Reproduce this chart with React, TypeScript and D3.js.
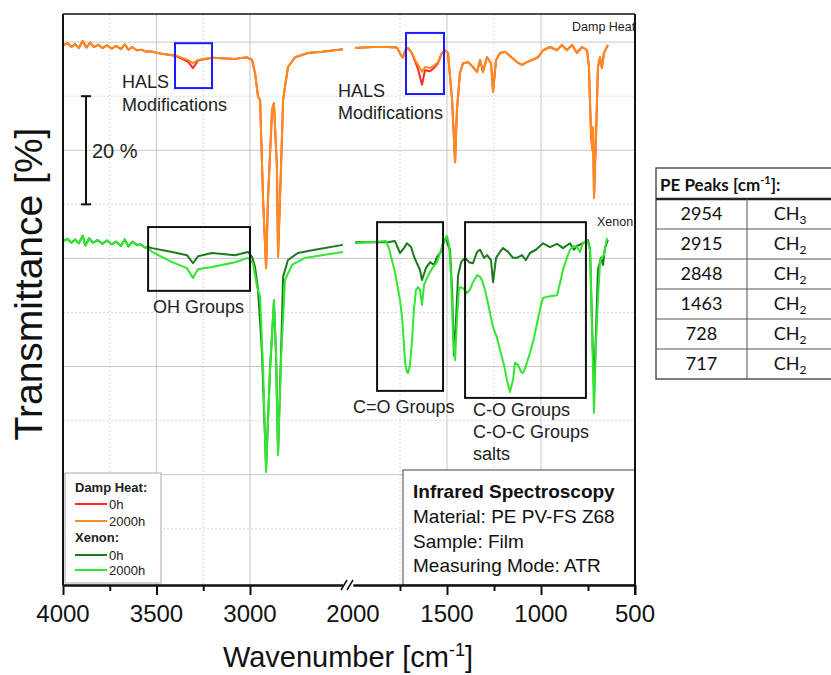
import React, { useEffect, useRef } from 'react';
import * as d3 from 'd3';

type Pt = [number, number];

const W = 831;
const H = 675;

// spectra: [wavenumber (cm-1), transmittance in % incl. stacking offset]
const dampHeat2000h: Pt[] = [
  [4000, 99.4], [3975, 99.8], [3955, 99.1], [3935, 99.6], [3915, 98.9], [3895, 100.2], [3875, 99.0],
  [3855, 99.9], [3835, 99.1], [3810, 99.5], [3790, 98.9], [3765, 99.4], [3740, 98.8], [3715, 99.3],
  [3690, 98.7], [3670, 99.6], [3650, 98.6], [3630, 99.1], [3605, 98.5], [3580, 98.6], [3555, 98.2],
  [3535, 98.3], [3480, 97.9], [3430, 97.6], [3401, 97.6], [3332, 96.7], [3305, 96.1], [3278, 96.7],
  [3203, 97.1], [3080, 96.9], [3016, 97.2], [2989, 96.7], [2973, 94.3], [2957, 89.9], [2946, 89.3],
  [2930, 70.8], [2914, 58.2], [2904, 70.8], [2882, 87.5], [2872, 88.7], [2856, 76.9], [2850, 60.3],
  [2834, 76.9], [2823, 89.3], [2797, 95.4], [2759, 97.2], [2690, 98.0], [2615, 98.2], [2503, 98.7],
  [1989, 98.9], [1894, 99.1], [1819, 99.1], [1766, 99.0], [1745, 97.6], [1734, 97.1], [1723, 98.5],
  [1707, 98.9], [1686, 98.0], [1670, 96.7], [1654, 95.8], [1633, 94.5], [1617, 95.4], [1590, 95.2],
  [1564, 95.8], [1548, 96.3], [1527, 98.0], [1511, 98.5], [1495, 98.0], [1473, 89.3], [1457, 77.8],
  [1447, 87.5], [1431, 94.3], [1415, 96.1], [1388, 96.3], [1362, 95.4], [1340, 94.5], [1324, 96.7],
  [1309, 94.5], [1287, 97.2], [1266, 96.1], [1255, 90.8], [1239, 96.7], [1218, 98.0], [1191, 98.2],
  [1154, 97.1], [1128, 96.3], [1101, 95.8], [1075, 96.3], [1048, 96.7], [1016, 97.2], [989, 98.5],
  [952, 99.1], [915, 98.5], [889, 99.5], [862, 98.5], [835, 99.5], [809, 98.0], [782, 99.1],
  [755, 98.5], [745, 95.4], [734, 83.2], [728, 80.0], [723, 84.3], [718, 71.2], [707, 83.2],
  [697, 95.4], [686, 97.2], [676, 95.2], [665, 98.0], [644, 99.5],
];

const dampHeat0h: Pt[] = [
  [4000, 99.4], [3975, 99.8], [3955, 99.1], [3935, 99.6], [3915, 98.9], [3895, 100.2], [3875, 99.0],
  [3855, 99.9], [3835, 99.1], [3810, 99.5], [3790, 98.9], [3765, 99.4], [3740, 98.8], [3715, 99.3],
  [3690, 98.7], [3670, 99.6], [3650, 98.6], [3630, 99.1], [3605, 98.5], [3580, 98.6], [3555, 98.2],
  [3535, 98.3], [3480, 97.9], [3430, 97.6], [3401, 97.5], [3332, 96.4], [3305, 95.2], [3278, 96.6],
  [3203, 97.1], [3080, 96.9], [3016, 97.2], [2989, 96.7], [2973, 94.3], [2957, 89.9], [2946, 89.3],
  [2930, 70.8], [2914, 58.2], [2904, 70.8], [2882, 87.5], [2872, 88.7], [2856, 76.9], [2850, 60.3],
  [2834, 76.9], [2823, 89.3], [2797, 95.4], [2759, 97.2], [2690, 98.0], [2615, 98.2], [2503, 98.7],
  [1989, 98.9], [1894, 99.1], [1819, 99.1], [1766, 99.0], [1745, 97.6], [1734, 97.1], [1723, 98.5],
  [1707, 98.9], [1686, 97.9], [1670, 96.5], [1654, 95.0], [1633, 92.1], [1617, 94.8], [1590, 94.6],
  [1564, 95.4], [1548, 96.1], [1527, 98.0], [1511, 98.5], [1495, 98.0], [1473, 89.3], [1457, 77.8],
  [1447, 87.5], [1431, 94.3], [1415, 96.1], [1388, 96.3], [1362, 95.4], [1340, 94.5], [1324, 96.7],
  [1309, 94.5], [1287, 97.2], [1266, 96.1], [1255, 90.8], [1239, 96.7], [1218, 98.0], [1191, 98.2],
  [1154, 97.1], [1128, 96.3], [1101, 95.8], [1075, 96.3], [1048, 96.7], [1016, 97.2], [989, 98.5],
  [952, 99.1], [915, 98.5], [889, 99.5], [862, 98.5], [835, 99.5], [809, 98.0], [782, 99.1],
  [755, 98.5], [745, 95.4], [734, 82.8], [728, 80.5], [723, 84.0], [718, 71.2], [707, 83.2],
  [697, 95.4], [686, 97.2], [676, 95.2], [665, 98.0], [644, 99.5],
];

const xenon0h: Pt[] = [
  [4000, 63.2], [3975, 63.6], [3955, 62.9], [3935, 63.5], [3915, 62.8], [3895, 64.2], [3880, 62.4],
  [3860, 63.7], [3840, 62.9], [3815, 63.4], [3790, 62.7], [3765, 63.3], [3740, 62.6], [3715, 63.1],
  [3690, 62.3], [3670, 63.5], [3650, 62.2], [3630, 63.1], [3605, 62.5], [3585, 62.6], [3560, 62.0],
  [3545, 62.1], [3524, 61.9], [3417, 61.2], [3337, 60.6], [3305, 59.1], [3278, 60.4], [3203, 61.0],
  [3080, 60.6], [3011, 61.2], [2989, 60.3], [2973, 58.4], [2957, 54.2], [2936, 42.5], [2914, 21.4],
  [2893, 39.4], [2872, 51.9], [2861, 42.5], [2850, 24.0], [2834, 42.5], [2823, 56.6], [2797, 59.7],
  [2744, 61.0], [2653, 61.6], [2503, 62.5],
  [1989, 63.0], [1910, 63.0], [1814, 63.0], [1777, 63.2], [1750, 61.0], [1729, 61.9], [1713, 62.8],
  [1691, 62.1], [1676, 60.4], [1660, 59.1], [1644, 57.9], [1633, 56.0], [1612, 58.2], [1590, 59.3],
  [1569, 58.8], [1553, 60.3], [1532, 61.2], [1521, 62.8], [1505, 63.8], [1495, 62.5], [1484, 61.6],
  [1473, 54.2], [1463, 42.1], [1452, 48.6], [1441, 56.9], [1425, 59.3], [1404, 60.1], [1383, 59.3],
  [1362, 59.1], [1340, 61.2], [1324, 61.6], [1303, 60.1], [1287, 60.6], [1266, 59.7], [1255, 55.6],
  [1239, 60.1], [1218, 61.2], [1202, 61.9], [1175, 61.2], [1149, 60.1], [1128, 60.1], [1101, 60.6],
  [1080, 59.7], [1059, 61.0], [1027, 61.6], [989, 62.8], [952, 62.1], [915, 62.7], [883, 61.9],
  [846, 62.8], [825, 61.6], [809, 62.3], [777, 62.8], [750, 63.4], [739, 61.6], [729, 48.6],
  [718, 35.7], [707, 46.8], [697, 57.9], [681, 60.1], [670, 58.8], [660, 61.9], [644, 63.4],
];

const xenon2000h: Pt[] = [
  [4000, 63.2], [3975, 63.6], [3955, 62.9], [3935, 63.5], [3915, 62.8], [3895, 64.2], [3880, 62.4],
  [3860, 63.7], [3840, 62.9], [3815, 63.4], [3790, 62.7], [3765, 63.3], [3740, 62.6], [3715, 63.1],
  [3690, 62.3], [3670, 63.5], [3650, 62.2], [3630, 63.1], [3605, 62.5], [3585, 62.6], [3560, 62.0],
  [3545, 62.0], [3524, 61.2], [3417, 59.3], [3337, 58.2], [3305, 56.4], [3278, 58.0], [3203, 58.4],
  [3080, 59.3], [3011, 60.1], [2984, 59.1], [2962, 54.7], [2946, 52.9], [2930, 39.4], [2914, 20.5],
  [2893, 39.4], [2872, 52.3], [2861, 42.5], [2850, 23.6], [2834, 41.2], [2813, 56.0], [2775, 58.8],
  [2706, 60.1], [2615, 60.6], [2503, 61.2],
  [1989, 62.8], [1910, 63.0], [1824, 63.2], [1809, 61.9], [1793, 59.7], [1777, 57.5], [1766, 55.4],
  [1750, 52.3], [1739, 49.2], [1729, 44.0], [1723, 40.7], [1713, 39.0], [1707, 38.8], [1697, 40.3],
  [1686, 44.9], [1676, 50.5], [1665, 54.2], [1654, 54.7], [1644, 54.2], [1633, 51.4], [1622, 55.1],
  [1606, 56.4], [1590, 57.5], [1574, 58.4], [1553, 59.3], [1527, 62.1], [1511, 63.4], [1500, 64.2],
  [1489, 62.5], [1479, 56.9], [1468, 45.8], [1457, 41.2], [1447, 48.6], [1436, 54.7], [1415, 54.5],
  [1394, 53.6], [1378, 54.2], [1362, 55.6], [1340, 56.9], [1324, 56.6], [1314, 56.0], [1298, 54.2],
  [1282, 51.7], [1266, 49.0], [1255, 47.3], [1234, 45.3], [1218, 43.1], [1197, 40.3], [1181, 37.5],
  [1165, 35.3], [1149, 37.5], [1138, 40.7], [1122, 40.3], [1106, 39.0], [1096, 38.8], [1080, 40.1],
  [1059, 42.5], [1037, 45.3], [1021, 48.0], [1000, 51.4], [989, 52.7], [952, 53.0], [915, 53.2],
  [899, 55.4], [883, 57.9], [862, 60.1], [846, 61.6], [825, 62.3], [809, 62.1], [793, 61.2],
  [777, 62.8], [755, 63.4], [739, 61.6], [729, 47.3], [718, 31.4], [707, 44.9], [697, 52.3],
  [686, 59.3], [676, 60.3], [665, 60.6], [649, 63.8],
];

const series = [
  { name: '0h', group: 'Damp Heat', data: dampHeat0h, color: '#ff2a2a' },
  { name: '2000h', group: 'Damp Heat', data: dampHeat2000h, color: '#ff8c1a' },
  { name: '0h', group: 'Xenon', data: xenon0h, color: '#1c7a1c' },
  { name: '2000h', group: 'Xenon', data: xenon2000h, color: '#30e830' },
];

const leftMajor = [4000, 3500, 3000];
const leftMinor = [3750, 3250];
const rightMajor = [1500, 1000, 500];
const rightMinor = [1750, 1250, 750];
const yMajor = [20, 40, 60, 80, 100];
const yMinor = [10, 30, 50, 70, 90];

const peakWavenumbers = ['2954', '2915', '2848', '1463', '728', '717'];
const peakGroups = ['3', '2', '2', '2', '2', '2'];

const infoLines = ['Material: PE PV-FS Z68', 'Sample: Film', 'Measuring Mode: ATR'];

const FONT = '"Liberation Sans", Arial, sans-serif';

const App: React.FC = () => {
  const svgRef = useRef<SVGSVGElement>(null);

  useEffect(() => {
    const svg = d3.select(svgRef.current);
    svg.selectAll('*').remove();

    const left = 63, right = 635, top = 14, bottom = 585;
    const xL = d3.scaleLinear().domain([4000, 2500]).range([left, 343.5]);
    const xR = d3.scaleLinear().domain([2000, 500]).range([353, right]);
    const y = d3.scaleLinear().domain([-0.4, 105.2]).range([bottom, top]);

    svg.append('defs').append('clipPath').attr('id', 'plot-clip')
      .append('rect').attr('x', left).attr('y', top).attr('width', right - left).attr('height', bottom - top);

    const g = svg.append('g');

    // grid
    const grid = g.append('g');
    const vSolid = [...leftMajor.map(d => xL(d)), ...rightMajor.map(d => xR(d))].filter(x => x > left + 1 && x < right - 1);
    const vDash = [...leftMinor.map(d => xL(d)), ...[1750, 1250].map(d => xR(d))];
    grid.selectAll('.vs').data(vSolid).enter().append('line')
      .attr('x1', d => d).attr('x2', d => d).attr('y1', top).attr('y2', bottom)
      .attr('stroke', '#c8c8c8').attr('stroke-width', 1);
    grid.selectAll('.vd').data(vDash).enter().append('line')
      .attr('x1', d => d).attr('x2', d => d).attr('y1', top).attr('y2', bottom)
      .attr('stroke', '#d8d8d8').attr('stroke-width', 1).attr('stroke-dasharray', '2,2');
    grid.selectAll('.hs').data(yMajor).enter().append('line')
      .attr('x1', left).attr('x2', right).attr('y1', d => y(d)).attr('y2', d => y(d))
      .attr('stroke', '#c8c8c8').attr('stroke-width', 1);
    grid.selectAll('.hd').data(yMinor).enter().append('line')
      .attr('x1', left).attr('x2', right).attr('y1', d => y(d)).attr('y2', d => y(d))
      .attr('stroke', '#d8d8d8').attr('stroke-width', 1).attr('stroke-dasharray', '2,2');

    // spectra
    const lineL = d3.line<Pt>().x(d => xL(d[0])).y(d => y(d[1]));
    const lineR = d3.line<Pt>().x(d => xR(d[0])).y(d => y(d[1]));
    const curves = g.append('g').attr('clip-path', 'url(#plot-clip)');
    series.forEach(s => {
      curves.append('path').attr('d', lineL(s.data.filter(d => d[0] >= 2500)) || '')
        .attr('fill', 'none').attr('stroke', s.color).attr('stroke-width', 2).attr('stroke-linejoin', 'round');
      curves.append('path').attr('d', lineR(s.data.filter(d => d[0] <= 2000)) || '')
        .attr('fill', 'none').attr('stroke', s.color).attr('stroke-width', 2).attr('stroke-linejoin', 'round');
    });

    const labels = g.append('g').attr('clip-path', 'url(#plot-clip)').attr('font-family', FONT);
    labels.append('text').attr('x', 572).attr('y', 31).attr('font-size', 12.5).attr('fill', '#222').text('Damp Heat');
    labels.append('text').attr('x', 597).attr('y', 226).attr('font-size', 12.5).attr('fill', '#222').text('Xenon');

    // annotation boxes
    const boxes = [
      { x0: xL(3401), x1: xL(3203), v0: 99.8, v1: 91.5, c: '#1a1aff' },
      { x0: xR(1718), x1: xR(1516), v0: 101.7, v1: 90.4, c: '#1a1aff' },
      { x0: xL(3545), x1: xL(3000), v0: 65.8, v1: 54.0, c: '#111' },
      { x0: xR(1872), x1: xR(1521), v0: 66.7, v1: 35.5, c: '#111' },
      { x0: xR(1404), x1: xR(761), v0: 66.7, v1: 34.2, c: '#111' },
    ];
    g.selectAll('.box').data(boxes).enter().append('rect')
      .attr('x', d => d.x0).attr('y', d => y(d.v0))
      .attr('width', d => d.x1 - d.x0).attr('height', d => y(d.v1) - y(d.v0))
      .attr('fill', 'none').attr('stroke', d => d.c).attr('stroke-width', 2);

    const ann = g.append('g').attr('font-family', FONT).attr('font-size', 18).attr('fill', '#222');
    ann.append('text').attr('x', 122).attr('y', 88).text('HALS');
    ann.append('text').attr('x', 122).attr('y', 111).text('Modifications');
    ann.append('text').attr('x', 338).attr('y', 97).text('HALS');
    ann.append('text').attr('x', 338).attr('y', 119).text('Modifications');
    ann.append('text').attr('x', 153).attr('y', 313).text('OH Groups');
    ann.append('text').attr('x', 353).attr('y', 413).text('C=O Groups');
    ann.append('text').attr('x', 473).attr('y', 416).text('C-O Groups');
    ann.append('text').attr('x', 473).attr('y', 438).text('C-O-C Groups');
    ann.append('text').attr('x', 473).attr('y', 460).text('salts');

    // 20 % scale bar
    const bar = g.append('g').attr('stroke', '#111').attr('stroke-width', 2);
    bar.append('line').attr('x1', 86).attr('x2', 86).attr('y1', y(90)).attr('y2', y(70));
    bar.append('line').attr('x1', 81).attr('x2', 91).attr('y1', y(90)).attr('y2', y(90));
    bar.append('line').attr('x1', 81).attr('x2', 91).attr('y1', y(70)).attr('y2', y(70));
    g.append('text').attr('x', 92).attr('y', 158).attr('font-family', FONT).attr('font-size', 20)
      .attr('fill', '#222').text('20 %');

    // legend
    const lg = g.append('g').attr('font-family', FONT).attr('font-size', 13).attr('fill', '#222');
    lg.append('rect').attr('x', 65).attr('y', 473).attr('width', 96).attr('height', 110)
      .attr('fill', '#fff').attr('stroke', '#aaa').attr('stroke-width', 1);
    const rows = [
      { kind: 'h', label: 'Damp Heat:', y: 492 },
      { kind: 's', s: series[0], y: 504 },
      { kind: 's', s: series[1], y: 521 },
      { kind: 'h', label: 'Xenon:', y: 542 },
      { kind: 's', s: series[2], y: 555 },
      { kind: 's', s: series[3], y: 570 },
    ];
    rows.forEach((r: any) => {
      if (r.kind === 'h') {
        lg.append('text').attr('x', 75).attr('y', r.y).attr('font-weight', 'bold').text(r.label);
      } else {
        lg.append('line').attr('x1', 75).attr('x2', 107).attr('y1', r.y).attr('y2', r.y)
          .attr('stroke', r.s.color).attr('stroke-width', 2);
        lg.append('text').attr('x', 109).attr('y', r.y + 5).text(r.s.name);
      }
    });

    // info box
    const info = g.append('g').attr('font-family', FONT).attr('fill', '#111');
    info.append('rect').attr('x', 403).attr('y', 470).attr('width', right - 403).attr('height', bottom - 470)
      .attr('fill', '#fff').attr('stroke', '#444').attr('stroke-width', 1);
    info.append('text').attr('x', 413).attr('y', 498).attr('font-size', 19).attr('font-weight', 'bold')
      .text('Infrared Spectroscopy');
    info.selectAll('.il').data(infoLines).enter().append('text')
      .attr('x', 413).attr('y', (d, i) => 523 + i * 24.5).attr('font-size', 19).text(d => d);

    // frame
    g.append('line').attr('x1', left).attr('x2', right).attr('y1', top).attr('y2', top)
      .attr('stroke', '#111').attr('stroke-width', 1.5);
    g.append('line').attr('x1', left).attr('x2', left).attr('y1', top).attr('y2', bottom)
      .attr('stroke', '#111').attr('stroke-width', 2);
    g.append('line').attr('x1', right).attr('x2', right).attr('y1', top).attr('y2', bottom + 10)
      .attr('stroke', '#111').attr('stroke-width', 2);

    // x axis with break
    const axL = d3.axisBottom(xL).tickValues([...leftMajor]).tickSize(10).tickSizeOuter(0).tickFormat(() => '');
    const axLm = d3.axisBottom(xL).tickValues(leftMinor).tickSize(6).tickSizeOuter(0).tickFormat(() => '');
    const axR = d3.axisBottom(xR).tickValues(rightMajor).tickSize(10).tickSizeOuter(0).tickFormat(() => '');
    const axRm = d3.axisBottom(xR).tickValues(rightMinor).tickSize(6).tickSizeOuter(0).tickFormat(() => '');
    [axL, axLm, axR, axRm].forEach(ax => {
      const a = g.append('g').attr('transform', `translate(0,${bottom})`).call(ax);
      a.selectAll('path, line').attr('stroke', '#111').attr('stroke-width', 2);
    });
    const brk = g.append('g').attr('stroke', '#111').attr('stroke-width', 1.5);
    brk.append('line').attr('x1', 343).attr('x2', 353).attr('y1', bottom).attr('y2', bottom)
      .attr('stroke', '#fff').attr('stroke-width', 4);
    brk.append('line').attr('x1', 341).attr('x2', 347).attr('y1', bottom + 5).attr('y2', bottom - 5);
    brk.append('line').attr('x1', 347).attr('x2', 353).attr('y1', bottom + 5).attr('y2', bottom - 5);

    const tl = g.append('g').attr('font-family', FONT).attr('font-size', 24).attr('fill', '#111')
      .attr('text-anchor', 'middle');
    leftMajor.forEach(v => tl.append('text').attr('x', xL(v)).attr('y', 622).text(v));
    [2000, ...rightMajor].forEach(v => tl.append('text').attr('x', xR(v)).attr('y', 622).text(v));

    // axis titles
    const xt = g.append('text').attr('x', 348).attr('y', 667).attr('font-family', FONT)
      .attr('font-size', 29).attr('text-anchor', 'middle').attr('fill', '#111');
    xt.append('tspan').text('Wavenumber [cm');
    xt.append('tspan').attr('dy', -11).attr('font-size', 18).text('-1');
    xt.append('tspan').attr('dy', 11).text(']');

    g.append('text').attr('transform', 'translate(42,284) rotate(-90)').attr('font-family', FONT)
      .attr('font-size', 39).attr('text-anchor', 'middle').attr('fill', '#111').text('Transmittance [%]');

    // PE peaks table
    const tb = g.append('g').attr('font-family', 'Lato, "Open Sans", sans-serif').attr('fill', '#111');
    const tx0 = 656, tx1 = 840, tcol = 747, ty0 = 168, thead = 199, trow = 30;
    tb.append('rect').attr('x', tx0).attr('y', ty0).attr('width', tx1 - tx0)
      .attr('height', thead - ty0 + trow * peakWavenumbers.length)
      .attr('fill', '#fff').attr('stroke', '#555').attr('stroke-width', 1.5);
    tb.append('line').attr('x1', tx0).attr('x2', tx1).attr('y1', thead).attr('y2', thead)
      .attr('stroke', '#222').attr('stroke-width', 2.5);
    tb.append('line').attr('x1', tcol).attr('x2', tcol).attr('y1', thead)
      .attr('y2', thead + trow * peakWavenumbers.length).attr('stroke', '#555').attr('stroke-width', 1);
    tb.selectAll('.rl').data(d3.range(1, peakWavenumbers.length)).enter().append('line')
      .attr('x1', tx0).attr('x2', tx1).attr('y1', i => thead + i * trow).attr('y2', i => thead + i * trow)
      .attr('stroke', '#555').attr('stroke-width', 1);
    const hd = tb.append('text').attr('x', 660).attr('y', 191).attr('font-size', 17).attr('font-weight', 'bold');
    hd.append('tspan').text('PE Peaks [cm');
    hd.append('tspan').attr('dy', -7).attr('font-size', 11).text('-1');
    hd.append('tspan').attr('dy', 7).text(']:');
    peakWavenumbers.forEach((p, i) => {
      const cy = thead + i * trow + 21;
      tb.append('text').attr('x', (tx0 + tcol) / 2).attr('y', cy).attr('font-size', 18)
        .attr('text-anchor', 'middle').text(p);
      const t = tb.append('text').attr('x', 790).attr('y', cy).attr('font-size', 18).attr('text-anchor', 'middle');
      t.append('tspan').text('CH');
      t.append('tspan').attr('dy', 4).attr('font-size', 12).text(peakGroups[i]);
    });
  }, []);

  return (
    <div>
      <style>{'body{margin:0;background:#fff}'}</style>
      <svg ref={svgRef} width={W} height={H} style={{ display: 'block', background: '#fff' }} />
    </div>
  );
};

export default App;
